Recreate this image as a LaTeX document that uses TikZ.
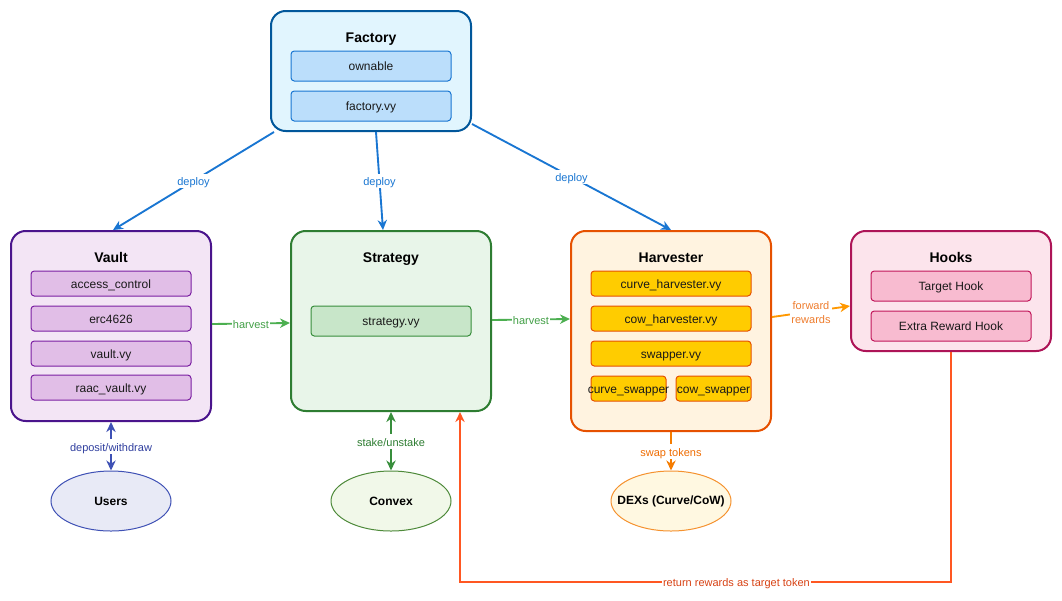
\documentclass[tikz,border=0pt]{standalone}
\usepackage{fontspec}
\setmainfont{Liberation Sans}
\usetikzlibrary{arrows.meta,calc,shapes.geometric}
\definecolor{facF}{HTML}{E1F5FE}\definecolor{facD}{HTML}{01579B}
\definecolor{facIF}{HTML}{BBDEFB}\definecolor{facID}{HTML}{1976D2}
\definecolor{vauF}{HTML}{F3E5F5}\definecolor{vauD}{HTML}{4A148C}
\definecolor{vauIF}{HTML}{E1BEE7}\definecolor{vauID}{HTML}{7B1FA2}
\definecolor{strF}{HTML}{E8F5E9}\definecolor{strD}{HTML}{2E7D32}
\definecolor{strIF}{HTML}{C8E6C9}\definecolor{strID}{HTML}{388E3C}
\definecolor{harF}{HTML}{FFF3E0}\definecolor{harD}{HTML}{E65100}
\definecolor{harIF}{HTML}{FFCC00}\definecolor{harID}{HTML}{E65100}
\definecolor{hokF}{HTML}{FCE4EC}\definecolor{hokD}{HTML}{AD1457}
\definecolor{hokIF}{HTML}{F8BBD0}\definecolor{hokID}{HTML}{C2185B}
\definecolor{usrF}{HTML}{E8EAF6}\definecolor{usrD}{HTML}{3F51B5}
\definecolor{cvxF}{HTML}{F1F8E9}\definecolor{cvxD}{HTML}{4E8A3A}
\definecolor{dexF}{HTML}{FFF8E1}\definecolor{dexD}{HTML}{F5922F}
\definecolor{deployC}{HTML}{1976D2}
\definecolor{harvC}{HTML}{4CAF50}\definecolor{harvT}{HTML}{43A047}
\definecolor{fwdC}{HTML}{FF9800}\definecolor{fwdT}{HTML}{EF7D2E}
\definecolor{depC}{HTML}{3F51B5}\definecolor{depT}{HTML}{303F9F}
\definecolor{stkC}{HTML}{388E3C}\definecolor{stkT}{HTML}{2E7D32}
\definecolor{swpC}{HTML}{F57C00}\definecolor{swpT}{HTML}{EF6C00}
\definecolor{retC}{HTML}{FF5722}\definecolor{retT}{HTML}{D84315}
\tikzset{
  outerbox/.style={draw, rounded corners=11pt, line width=1.5pt, inner sep=0pt, minimum width=150pt},
  innerbox/.style={draw, rounded corners=2.5pt, line width=0.75pt, inner sep=0pt, minimum width=120pt,
    text height=8.4pt, text depth=1.0pt, font=\fontsize{9}{11}\selectfont, text=black!90},
  titletext/.style={inner sep=0pt, text height=9.6pt, text depth=1pt, font=\fontsize{10.5}{12}\selectfont\bfseries},
  ellnode/.style={ellipse, draw, line width=0.75pt, inner sep=0pt, minimum width=90pt, minimum height=45pt,
    font=\fontsize{9}{11}\selectfont\bfseries},
  conn/.style={line width=1.4pt},
  arr/.style={conn, -{Stealth[length=7.5pt,width=7pt,inset=2.4pt]}},
  darr/.style={conn, {Stealth[length=7.5pt,width=7pt,inset=2.4pt]}-{Stealth[length=7.5pt,width=7pt,inset=2.4pt]}},
  lbl/.style={fill=white, inner sep=1pt, text height=8.2pt, text depth=1pt, font=\fontsize{8.25}{10.5}\selectfont},
  lbltwo/.style={fill=white, inner sep=1pt, font=\fontsize{8.25}{10.5}\selectfont, yshift=-1pt}
}
\begin{document}
\begin{tikzpicture}[x=0.75pt,y=-0.75pt]
\fill[white] (0,0) rectangle (1062,600);
\useasboundingbox (0,0) rectangle (1062,600);
% Factory
\node[outerbox, fill=facF, draw=facD, minimum height=90pt] (factory) at (371,71) {};
\node[titletext] (factoryt) at (371,37) {Factory};
\node[innerbox, fill=facIF, draw=facID, minimum height=22.5pt] (ownable) at (371,66) {ownable};
\node[innerbox, fill=facIF, draw=facID, minimum height=22.5pt] (factoryvy) at (371,106) {factory.vy};
% Vault
\node[outerbox, fill=vauF, draw=vauD, minimum height=142.5pt] (vault) at (111,326) {};
\node[titletext] (vaultt) at (111,257) {Vault};
\node[innerbox, fill=vauIF, draw=vauID, minimum height=18.75pt] (ac) at (111,283.5) {access\_control};
\node[innerbox, fill=vauIF, draw=vauID, minimum height=18.75pt] (erc) at (111,318.5) {erc4626};
\node[innerbox, fill=vauIF, draw=vauID, minimum height=18.75pt] (vaultvy) at (111,353.5) {vault.vy};
\node[innerbox, fill=vauIF, draw=vauID, minimum height=18.75pt] (raac) at (111,387.5) {raac\_vault.vy};
% Strategy
\node[outerbox, fill=strF, draw=strD, minimum height=135pt] (strategy) at (391,321) {};
\node[titletext] (strategyt) at (391,257) {Strategy};
\node[innerbox, fill=strIF, draw=strID, minimum height=22.5pt] (strategyvy) at (391,321) {strategy.vy};
% Harvester
\node[outerbox, fill=harF, draw=harD, minimum height=150pt] (harvester) at (671,331) {};
\node[titletext] (harvestert) at (671,257) {Harvester};
\node[innerbox, fill=harIF, draw=harID, minimum height=18.75pt] (ch) at (671,283.5) {curve\_harvester.vy};
\node[innerbox, fill=harIF, draw=harID, minimum height=18.75pt] (cowh) at (671,318.5) {cow\_harvester.vy};
\node[innerbox, fill=harIF, draw=harID, minimum height=18.75pt] (swp) at (671,353.5) {swapper.vy};
\node[innerbox, fill=harIF, draw=harID, minimum height=18.75pt, minimum width=56.25pt] (cs) at (628.5,388.5) {\makebox[0pt]{curve\_swapper}};
\node[innerbox, fill=harIF, draw=harID, minimum height=18.75pt, minimum width=56.25pt] (cows) at (713.5,388.5) {\makebox[0pt]{cow\_swapper}};
% Hooks
\node[outerbox, fill=hokF, draw=hokD, minimum height=90pt] (hooks) at (951,291) {};
\node[titletext] (hookst) at (951,257) {Hooks};
\node[innerbox, fill=hokIF, draw=hokID, minimum height=22.5pt] (th) at (951,286) {Target Hook};
\node[innerbox, fill=hokIF, draw=hokID, minimum height=22.5pt] (erh) at (951,326) {Extra Reward Hook};
% Ellipses
\node[ellnode, fill=usrF, draw=usrD] (users) at (111,501) {\makebox[0pt]{Users}};
\node[ellnode, fill=cvxF, draw=cvxD] (convex) at (391,501) {\makebox[0pt]{Convex}};
\node[ellnode, fill=dexF, draw=dexD] (dexs) at (671,501) {\makebox[0pt]{DEXs (Curve/CoW)}};
% deploy edges
\draw[arr, deployC] ($(factory.south)+(-97,0)$) -- node[lbl, text=deployC] {deploy} ($(vault.north)+(2,0)$);
\draw[arr, deployC] ($(factory.south)+(5,0)$) -- node[lbl, text=deployC] {deploy} ($(strategy.north)+(-8,0)$);
\draw[arr, deployC] ($(factory.east)+(0,53)$) -- node[lbl, text=deployC] {deploy} (harvester.north);
% harvest
\draw[arr, harvC] ($(vault.east)+(0,-2)$) -- node[lbl, text=harvT] {harvest} ($(strategy.west)+(0,2)$);
\draw[arr, harvC] ($(strategy.east)+(0,-1)$) -- node[lbl, text=harvT] {harvest} ($(harvester.west)+(0,-12)$);
% forward rewards
\draw[arr, fwdC] ($(harvester.east)+(0,-14)$) -- node[lbltwo, text=fwdT, align=center] {forward\\rewards} ($(hooks.west)+(0,15)$);
% vertical
\draw[darr, depC] (vault.south) -- node[lbl, text=depT] {deposit/withdraw} (users.north);
\draw[darr, stkC] (strategy.south) -- node[lbl, text=stkT] {stake/unstake} (convex.north);
\draw[arr, swpC] (harvester.south) -- node[lbl, text=swpT] {swap tokens} (dexs.north);
% return
\coordinate (retcorner) at ($(hooks.south)+(0,230)$);
\coordinate (rettarget) at ($(strategy.south)+(69,0)$);
\draw[arr, retC] (hooks.south) -- (retcorner) -- node[lbl, text=retT, pos=0.437] {return rewards as target token} (retcorner -| rettarget) -- (rettarget);
\end{tikzpicture}
\end{document}
